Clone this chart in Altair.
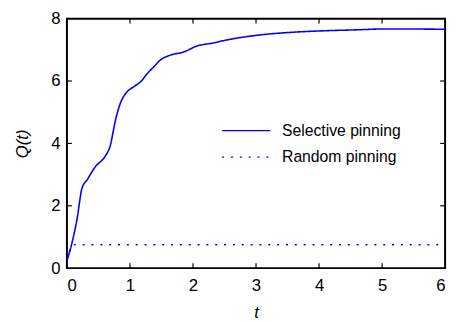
import altair as alt
import pandas as pd

# Selective pinning curve
sel_t = [0, 0.07, 0.16, 0.24, 0.32, 0.45, 0.60, 0.68, 0.78, 0.86, 0.94, 1.07, 1.17,
         1.28, 1.38, 1.48, 1.64, 1.85, 2.06, 2.32, 2.52, 3.03, 3.55, 4.07, 4.58, 5.05, 6.0]
sel_q = [0.23, 0.73, 1.57, 2.57, 2.83, 3.25, 3.57, 3.88, 4.83, 5.35, 5.62, 5.83, 5.98,
         6.25, 6.46, 6.67, 6.83, 6.93, 7.12, 7.22, 7.31, 7.47, 7.56, 7.61, 7.64, 7.67, 7.66]
# Random pinning curve
rnd_t = [0, 0.1, 6.0]
rnd_q = [0.25, 0.75, 0.75]

series_names = ["Selective pinning", "Random pinning"]
x_ticks = [0, 1, 2, 3, 4, 5, 6]
y_ticks = [0, 2, 4, 6, 8]
x_inner = [1, 2, 3, 4, 5]
y_inner = [2, 4, 6]

W, H = 385, 254

df = pd.concat([
    pd.DataFrame({"t": sel_t, "Q": sel_q, "series": series_names[0], "order": range(len(sel_t))}),
    pd.DataFrame({"t": rnd_t, "Q": rnd_q, "series": series_names[1], "order": range(len(rnd_t))}),
])

xs = alt.Scale(domain=[0, 6], nice=False, zero=False)
ys = alt.Scale(domain=[0, 8], nice=False, zero=False)

leg = dict(title=None, orient="none", legendX=157, legendY=106,
           symbolType="stroke", symbolSize=2400, symbolStrokeWidth=1.3,
           labelFontSize=16, labelFont="Liberation Sans", labelColor="#000",
           rowPadding=11, clipHeight=16, labelOffset=11)

lines = alt.Chart(df).mark_line(strokeWidth=1.6, interpolate="monotone").encode(
    x=alt.X("t:Q", scale=xs, axis=alt.Axis(values=x_ticks, format="d", title="t", titleFontStyle="italic",
                                           titlePadding=11, labelPadding=10, ticks=False, domain=False)),
    y=alt.Y("Q:Q", scale=ys, axis=alt.Axis(values=y_ticks, format="d", title="Q(t)", titleFontStyle="italic",
                                           titlePadding=20, labelPadding=7, ticks=False, domain=False)),
    order="order:Q",
    color=alt.Color("series:N", scale=alt.Scale(domain=series_names, range=["#0000ff", "#0000ff"]),
                    legend=alt.Legend(**leg)),
    strokeDash=alt.StrokeDash("series:N", scale=alt.Scale(domain=series_names, range=[[1, 0], [2, 7]]),
                              legend=alt.Legend(**leg)),
)

xt = pd.DataFrame({"v": x_inner})
yt = pd.DataFrame({"v": y_inner})
tick_bot = alt.Chart(xt).mark_rule(color="black", strokeWidth=1.2).encode(
    x=alt.X("v:Q", scale=xs), y=alt.value(H), y2=alt.value(H - 5))
tick_top = alt.Chart(xt).mark_rule(color="black", strokeWidth=1.2).encode(
    x=alt.X("v:Q", scale=xs), y=alt.value(0), y2=alt.value(5))
tick_left = alt.Chart(yt).mark_rule(color="black", strokeWidth=1.2).encode(
    y=alt.Y("v:Q", scale=ys), x=alt.value(0), x2=alt.value(5))
tick_right = alt.Chart(yt).mark_rule(color="black", strokeWidth=1.2).encode(
    y=alt.Y("v:Q", scale=ys), x=alt.value(W), x2=alt.value(W - 5))

chart = alt.layer(lines, tick_bot, tick_top, tick_left, tick_right).properties(
    width=W, height=H,
    autosize=alt.AutoSizeParams(type="none"),
    padding={"left": 60, "top": 8, "right": 6, "bottom": 52},
    background="white",
).configure_view(stroke="black", strokeWidth=2).configure_axis(
    grid=False, labelFont="Liberation Sans", labelFontSize=17, labelColor="#000",
    titleFont="Liberation Sans", titleFontSize=17, titleColor="#000", titleFontWeight="normal",
)

chart.save("out.html", embed_options={"renderer": "svg", "actions": False})
